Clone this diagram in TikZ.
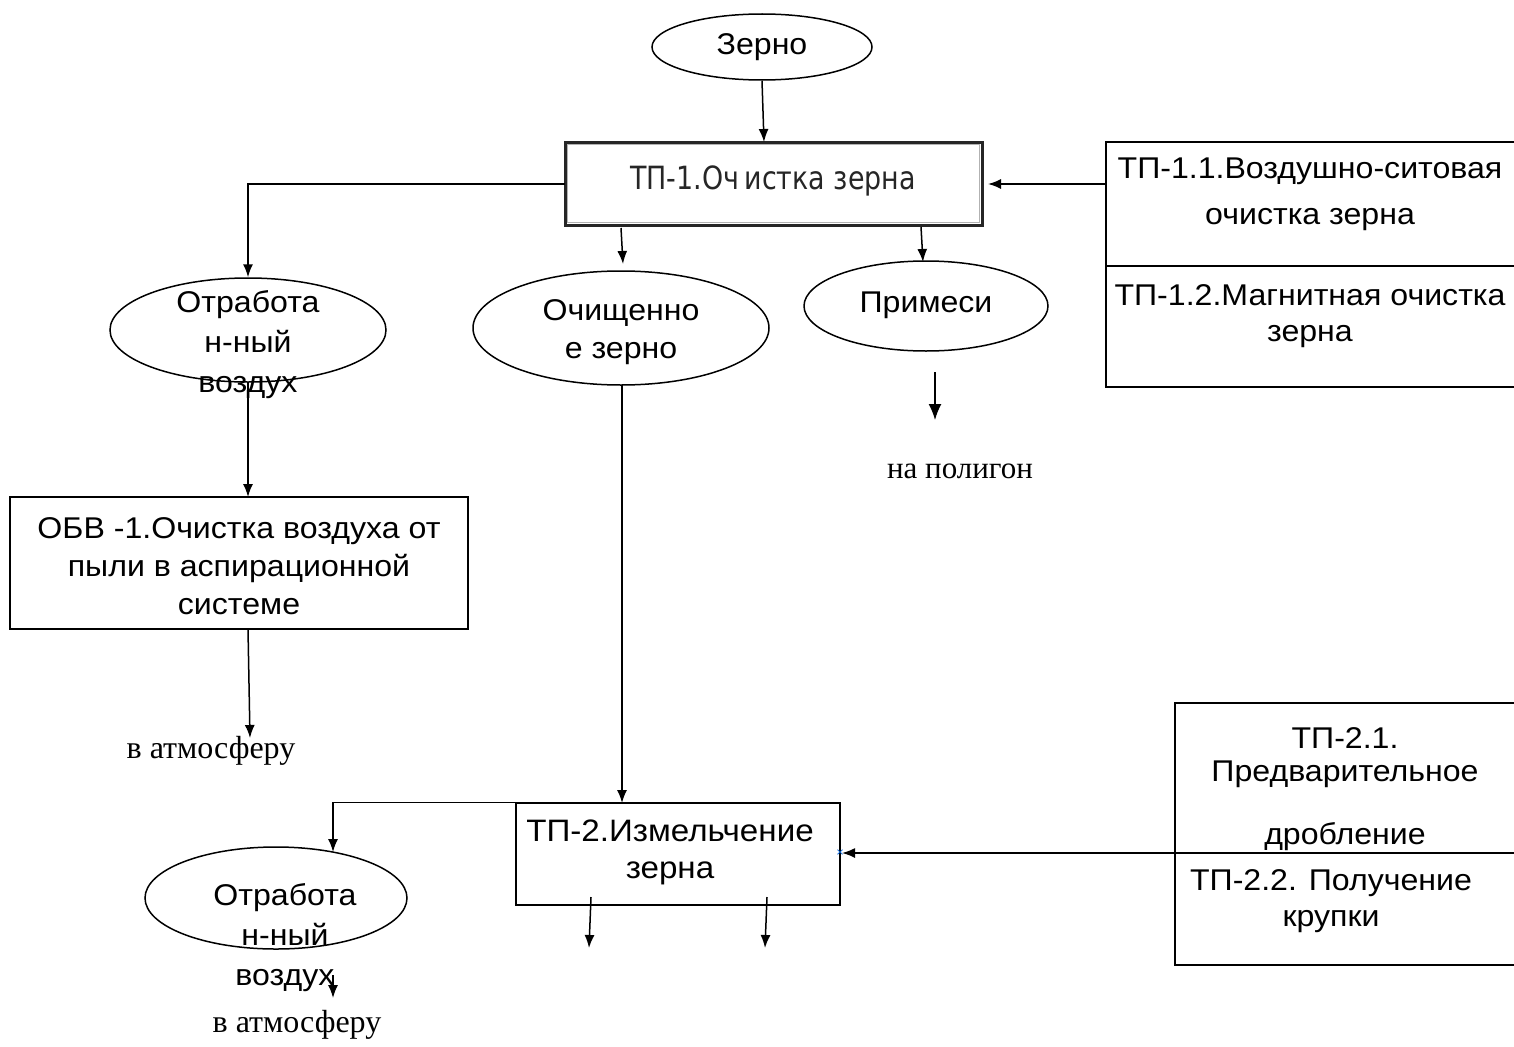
\documentclass[tikz,border=0pt]{standalone}
\usepackage{fontspec}
\setmainfont{Liberation Sans}[FakeStretch=1.07]
\newfontfamily\serifrm{Liberation Serif}
\newfontfamily\pixfont{DejaVu Sans}[FakeStretch=0.84]
\usetikzlibrary{shapes.geometric,arrows.meta,calc}

\begin{document}
\begin{tikzpicture}[x=1pt,y=-1pt,
  lw/.style={line width=1.5pt},
  oval/.style={draw,ellipse,lw,inner sep=0pt},
  procbox/.style={draw,lw,inner sep=0pt},
  txt/.style={font=\fontsize{30}{38}\selectfont,align=center,inner sep=0pt},
  note/.style={font=\serifrm\fontsize{32}{36}\selectfont,inner sep=0pt,anchor=base},
  arr/.style={lw,-{Latex[length=13pt,width=10pt]}}]
\useasboundingbox (0,0) rectangle (1514,1046);

% --- top: input and first stage
\node[oval,minimum width=220pt,minimum height=66pt] (zerno) at (762,47) {};
\node[txt] (zernoT) at (762,47) {Зерно};

% stage 1 box: heavy frame with a soft grey inner edge
\node[draw=black!30,line width=1.5pt,minimum width=412pt,minimum height=78pt,inner sep=0pt] (tp1in) at (773.5,183.5) {};
\node[draw=black!85,line width=3pt,minimum width=417pt,minimum height=83pt,inner sep=0pt] (tp1) at (773.5,183.5) {};
\node[font=\pixfont\fontsize{32}{36}\selectfont,text=black!85,inner sep=0pt] (tp1T) at (773,181) {ТП-1.Оч\,истка зерна};

% sub-operations of stage 1
\draw[lw] (1520,142) -- (1106,142) -- (1106,387) -- (1520,387);
\draw[lw] (1106,266) -- (1520,266);
\coordinate (rb1) at (1106,184);
\node[txt,font=\fontsize{30}{46}\selectfont] (rb1a) at (1310,194) {ТП-1.1.Воздушно-ситовая\\очистка зерна};
\node[txt,font=\fontsize{30}{36}\selectfont] (rb1b) at (1310,316) {ТП-1.2.Магнитная очистка\\зерна};

% outputs of stage 1
\node[oval,minimum width=276pt,minimum height=104pt] (otr1) at (248,330) {};
\node[txt,font=\fontsize{30}{40}\selectfont] (otr1T) at (248,345) {Отработа\\н-ный\\воздух};

\node[oval,minimum width=296pt,minimum height=114pt] (ochz) at (621,328) {};
\node[txt] (ochzT) at (621,332) {Очищенно\\е зерно};

\node[oval,minimum width=244pt,minimum height=90pt] (prim) at (926,306) {};
\node[txt] (primT) at (926,305) {Примеси};

\node[note,font=\serifrm\fontsize{31}{36}\selectfont] (polig) at (960,478) {на полигон};

% air cleaning
\node[procbox,minimum width=458pt,minimum height=132pt] (obv) at (239,563) {};
\node[txt,font=\fontsize{30}{38}\selectfont] (obvT) at (239,566) {ОБВ -1.Очистка воздуха от\\пыли в аспирационной\\системе};
\node[note] (atm1) at (211,758) {в атмосферу};

% second stage
\node[procbox,minimum width=324pt,minimum height=102pt] (tp2) at (678,854) {};
\node[txt,font=\fontsize{31}{37}\selectfont] (tp2T) at (670,852) {ТП-2.Измельчение\\зерна};

\draw[lw] (1520,703) -- (1175,703) -- (1175,965) -- (1520,965);
\draw[lw] (1175,853) -- (1520,853);
\coordinate (rb2) at (1175,853);
\node[txt,font=\fontsize{30}{33}\selectfont] (rb2a) at (1345,789) {ТП-2.1.\\Предварительное\\[30pt]дробление};
\node[txt,font=\fontsize{30}{36}\selectfont] (rb2b) at (1331,901) {ТП-2.2. Получение\\крупки};

\node[oval,minimum width=262pt,minimum height=102pt] (otr2) at (276,898) {};
\node[txt,font=\fontsize{30}{40}\selectfont] (otr2T) at (285,938) {Отработа\\н-ный\\воздух};
\node[note] (atm2) at (297,1032) {в атмосферу};

% small marker at the input point of stage 2
\node[text=blue!55!cyan!85!black,font=\fontsize{12}{12}\selectfont,inner sep=0pt] (mark) at (840,853) {×};

% --- connectors
\coordinate (t1in) at (764,142);
\draw[arr] (zerno.south) -- (t1in);

\coordinate (t1l) at (565,184);
\draw[arr] (t1l) -| (otr1.north);

\coordinate (t1b1) at (621,228);
\coordinate (t1b1e) at (623,264);
\draw[arr] (t1b1) -- (t1b1e);
\coordinate (t1b2) at (921,227);
\coordinate (t1b2e) at (923,262);
\draw[arr] (t1b2) -- (t1b2e);

\coordinate (t1r) at (988,184);
\draw[arr] (rb1) -- (t1r);

\coordinate (pr1) at (935,372);
\coordinate (pr2) at (935,420);
\draw[lw,-{Latex[length=16pt,width=13pt]}] (pr1) -- (pr2);

\coordinate (o1b) at (248,383);
\coordinate (obvt) at (248,497);
\draw[arr] (o1b) -- (obvt);
\coordinate (obvb) at (248,629);
\coordinate (atm1t) at (250,738);
\draw[arr] (obvb) -- (atm1t);

\coordinate (ochb) at (622,385);
\coordinate (t2in) at (622,803);
\draw[arr] (ochb) -- (t2in);

\coordinate (o2t) at (333,852);
\draw[arr] (tp2.north west) -| (o2t);

\coordinate (t2b1) at (591,897);
\coordinate (t2b1e) at (589,948);
\draw[arr] (t2b1) -- (t2b1e);
\coordinate (t2b2) at (767,897);
\coordinate (t2b2e) at (765,948);
\draw[arr] (t2b2) -- (t2b2e);

\coordinate (t2r) at (842,853);
\draw[arr] (rb2) -- (t2r);

\coordinate (o2b) at (333,975);
\coordinate (o2e) at (333,998);
\draw[arr] (o2b) -- (o2e);
\end{tikzpicture}
\end{document}
